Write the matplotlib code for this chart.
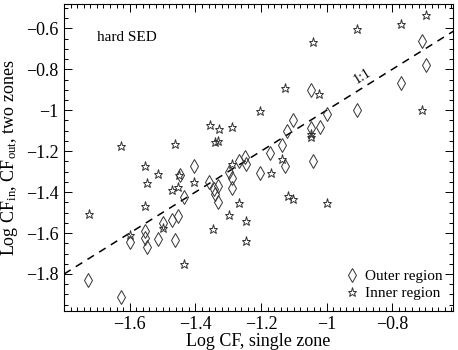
import matplotlib
matplotlib.use("Agg")
import matplotlib.pyplot as plt
from matplotlib.ticker import MultipleLocator, FixedLocator, FuncFormatter

plt.rcParams['font.family'] = ['Liberation Serif', 'DejaVu Serif']
plt.rcParams['mathtext.fontset'] = 'custom'
plt.rcParams['mathtext.rm'] = 'Liberation Serif'
plt.rcParams['mathtext.it'] = 'Liberation Serif:italic'

# outer region (diamonds): single zone CF vs two-zone CF_out
outer_x = [-1.726, -1.627, -1.598, -1.555, -1.555, -1.546, -1.514, -1.499, -1.472, -1.453,
           -1.462, -1.448, -1.434, -1.403, -1.357, -1.342, -1.330, -1.340, -1.331, -1.297,
           -1.287, -1.289, -1.267, -1.248, -1.246, -1.202, -1.172, -1.135, -1.127, -1.120,
           -1.102, -1.047, -1.047, -1.021, -1.041, -0.999, -0.908, -0.772, -0.709, -0.696]
outer_y = [-1.830, -1.911, -1.646, -1.589, -1.626, -1.667, -1.629, -1.552, -1.536, -1.518,
           -1.634, -1.317, -1.422, -1.273, -1.352, -1.383, -1.368, -1.410, -1.447, -1.300,
           -1.333, -1.379, -1.246, -1.228, -1.262, -1.307, -1.210, -1.172, -1.270, -1.099,
           -1.050, -0.899, -1.089, -1.084, -1.246, -1.017, -0.997, -0.865, -0.661, -0.780]

# inner region (stars)
inner_x = [-1.724, -1.627, -1.598, -1.555, -1.555, -1.548, -1.514, -1.499, -1.472, -1.453,
           -1.462, -1.449, -1.435, -1.403, -1.356, -1.340, -1.330, -1.328, -1.288, -1.347,
           -1.299, -1.289, -1.267, -1.245, -1.245, -1.202, -1.171, -1.135, -1.127, -1.118,
           -1.101, -1.047, -1.047, -1.022, -1.041, -0.999, -0.908, -0.772, -0.696, -0.709]
inner_y = [-1.507, -1.175, -1.611, -1.274, -1.466, -1.356, -1.311, -1.575, -1.388, -1.375,
           -1.164, -1.317, -1.749, -1.350, -1.071, -1.156, -1.151, -1.094, -1.084, -1.580,
           -1.512, -1.263, -1.453, -1.543, -1.638, -1.004, -1.309, -1.237, -0.889, -1.417,
           -1.436, -1.115, -1.131, -0.922, -0.666, -1.455, -0.603, -0.580, -0.535, -0.997]

one_to_one = [-1.8, -0.6]
xticks = [-1.6, -1.4, -1.2, -1.0, -0.8]
yticks = [-1.8, -1.6, -1.4, -1.2, -1.0, -0.8, -0.6]

fig = plt.figure(figsize=(4.58, 3.5), dpi=100)
ax = fig.add_axes([0.14, 0.112, 0.849, 0.877])

ax.plot(one_to_one, one_to_one, ls=(0, (5, 4)), color='black', lw=1.1)
ax.plot(outer_x, outer_y, ls='none', marker='d', ms=7.5, mfc='none', mec='#333333',
        mew=0.7, label='Outer region')
ax.plot(inner_x, inner_y, ls='none', marker='*', ms=6.5, mfc='none', mec='#333333',
        mew=0.7, label='Inner region')

ax.text(-0.892, -0.835, '1:1', rotation=32, fontsize=10, ha='center', va='center',
        rotation_mode='anchor')
ax.text(0.085, 0.889, 'hard SED', transform=ax.transAxes, fontsize=11, va='center')

ax.set_xlim(-1.8, -0.615)
ax.set_ylim(-1.98, -0.48)

ax.xaxis.set_major_locator(FixedLocator(xticks))
ax.xaxis.set_minor_locator(MultipleLocator(0.02))
ax.yaxis.set_major_locator(FixedLocator(yticks))
ax.yaxis.set_minor_locator(MultipleLocator(0.05))
fmt = FuncFormatter(lambda v, p: ('%g' % round(v, 2)).replace('-', '\u2212'))
ax.xaxis.set_major_formatter(fmt)
ax.yaxis.set_major_formatter(fmt)
ax.tick_params(which='both', direction='in', top=True, right=True, labelsize=13, width=0.7)
ax.tick_params(which='major', length=6, pad=4)
ax.tick_params(which='minor', length=3)
for s in ax.spines.values():
    s.set_linewidth(0.8)

ax.set_xlabel('Log CF, single zone', fontsize=13, labelpad=0)
ax.set_ylabel(r'Log CF$_{\rm in}$, CF$_{\rm out}$, two zones', fontsize=13, labelpad=4)

ax.legend(loc='lower right', frameon=False, fontsize=11, handletextpad=0.3,
          handlelength=1.0, borderaxespad=0.3, labelspacing=0.2)

fig.savefig('out.png', dpi=100)
